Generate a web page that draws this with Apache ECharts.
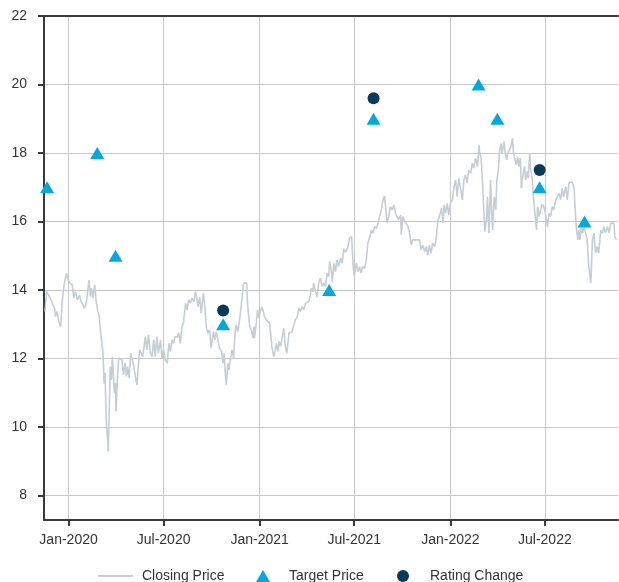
<!DOCTYPE html>
<html>
<head>
<meta charset="utf-8">
<script src="https://cdn.jsdelivr.net/npm/echarts@6/dist/echarts.min.js"></script>
<style>
  html, body { margin: 0; padding: 0; background: #fff; }
  #chart { width: 619px; height: 582px; }
</style>
</head>
<body>
<div id="chart"></div>
<script>
// closing price (roughly every 3 days)
const closeDates = [
  "2019-11-17","2019-11-20","2019-11-23","2019-11-27","2019-12-01","2019-12-05","2019-12-07","2019-12-10","2019-12-14","2019-12-17",
  "2019-12-20","2019-12-24","2019-12-28","2019-12-31","2020-01-04","2020-01-08","2020-01-11","2020-01-14","2020-01-18","2020-01-22",
  "2020-01-24","2020-01-27","2020-01-31","2020-02-03","2020-02-06","2020-02-09","2020-02-12","2020-02-14","2020-02-17","2020-02-20",
  "2020-02-23","2020-02-26","2020-02-29","2020-03-02","2020-03-05","2020-03-07","2020-03-09","2020-03-11","2020-03-13","2020-03-15",
  "2020-03-17","2020-03-19","2020-03-21","2020-03-23","2020-03-25","2020-03-27","2020-03-29","2020-03-31","2020-04-01","2020-04-03",
  "2020-04-06","2020-04-09","2020-04-12","2020-04-15","2020-04-18","2020-04-21","2020-04-23","2020-04-26","2020-04-29","2020-05-02",
  "2020-05-05","2020-05-08","2020-05-11","2020-05-14","2020-05-16","2020-05-19","2020-05-22","2020-05-25","2020-05-27","2020-05-30",
  "2020-06-02","2020-06-06","2020-06-09","2020-06-12","2020-06-15","2020-06-18","2020-06-21","2020-06-25","2020-06-28","2020-07-01",
  "2020-07-04","2020-07-08","2020-07-11","2020-07-14","2020-07-17","2020-07-20","2020-07-23","2020-07-27","2020-07-30","2020-08-02",
  "2020-08-05","2020-08-08","2020-08-12","2020-08-15","2020-08-18","2020-08-21","2020-08-24","2020-08-28","2020-08-31","2020-09-03",
  "2020-09-05","2020-09-08","2020-09-11","2020-09-15","2020-09-18","2020-09-21","2020-09-24","2020-09-27","2020-09-30","2020-10-04",
  "2020-10-07","2020-10-10","2020-10-13","2020-10-16","2020-10-20","2020-10-23","2020-10-25","2020-10-27","2020-10-29","2020-11-01",
  "2020-11-03","2020-11-06","2020-11-09","2020-11-12","2020-11-15","2020-11-17","2020-11-20","2020-11-23","2020-11-25","2020-11-28",
  "2020-12-01","2020-12-03","2020-12-07","2020-12-09","2020-12-13","2020-12-16","2020-12-19","2020-12-21","2020-12-22","2020-12-26",
  "2020-12-28","2020-12-31","2021-01-02","2021-01-05","2021-01-08","2021-01-10","2021-01-14","2021-01-17","2021-01-20","2021-01-23",
  "2021-01-25","2021-01-28","2021-01-31","2021-02-02","2021-02-05","2021-02-07","2021-02-10","2021-02-13","2021-02-16","2021-02-19",
  "2021-02-22","2021-02-26","2021-03-01","2021-03-04","2021-03-07","2021-03-10","2021-03-14","2021-03-17","2021-03-20","2021-03-23",
  "2021-03-26","2021-03-30","2021-04-02","2021-04-05","2021-04-08","2021-04-10","2021-04-13","2021-04-14","2021-04-18","2021-04-21",
  "2021-04-24","2021-04-27","2021-05-01","2021-05-04","2021-05-07","2021-05-10","2021-05-13","2021-05-15","2021-05-18","2021-05-20",
  "2021-05-23","2021-05-26","2021-05-29","2021-06-01","2021-06-05","2021-06-08","2021-06-11","2021-06-14","2021-06-17","2021-06-20",
  "2021-06-22","2021-06-26","2021-06-29","2021-07-01","2021-07-05","2021-07-08","2021-07-11","2021-07-14","2021-07-17","2021-07-21",
  "2021-07-24","2021-07-27","2021-07-31","2021-08-03","2021-08-06","2021-08-09","2021-08-13","2021-08-16","2021-08-19","2021-08-22",
  "2021-08-25","2021-08-28","2021-08-31","2021-09-02","2021-09-05","2021-09-08","2021-09-12","2021-09-15","2021-09-18","2021-09-21",
  "2021-09-24","2021-09-28","2021-09-29","2021-10-02","2021-10-05","2021-10-08","2021-10-12","2021-10-15","2021-10-18","2021-10-21",
  "2021-10-24","2021-10-28","2021-10-31","2021-11-03","2021-11-06","2021-11-09","2021-11-13","2021-11-16","2021-11-19","2021-11-22",
  "2021-11-25","2021-11-28","2021-12-02","2021-12-05","2021-12-08","2021-12-11","2021-12-15","2021-12-18","2021-12-20","2021-12-23",
  "2021-12-26","2021-12-29","2022-01-01","2022-01-05","2022-01-08","2022-01-11","2022-01-14","2022-01-17","2022-01-21","2022-01-24",
  "2022-01-27","2022-01-30","2022-02-02","2022-02-05","2022-02-09","2022-02-12","2022-02-15","2022-02-18","2022-02-22","2022-02-25",
  "2022-02-26","2022-03-01","2022-03-04","2022-03-06","2022-03-08","2022-03-11","2022-03-13","2022-03-16","2022-03-19","2022-03-21",
  "2022-03-23","2022-03-26","2022-03-29","2022-03-31","2022-04-03","2022-04-05","2022-04-08","2022-04-10","2022-04-14","2022-04-16",
  "2022-04-19","2022-04-21","2022-04-24","2022-04-26","2022-04-30","2022-05-02","2022-05-05","2022-05-07","2022-05-10","2022-05-12",
  "2022-05-15","2022-05-17","2022-05-20","2022-05-23","2022-05-25","2022-05-28","2022-05-30","2022-06-02","2022-06-04","2022-06-07",
  "2022-06-09","2022-06-12","2022-06-15","2022-06-17","2022-06-20","2022-06-23","2022-06-26","2022-06-29","2022-07-02","2022-07-06",
  "2022-07-09","2022-07-12","2022-07-15","2022-07-18","2022-07-22","2022-07-25","2022-07-28","2022-07-31","2022-08-03","2022-08-06",
  "2022-08-10","2022-08-13","2022-08-16","2022-08-19","2022-08-22","2022-08-26","2022-08-27","2022-08-30","2022-09-02","2022-09-04",
  "2022-09-06","2022-09-09","2022-09-11","2022-09-14","2022-09-17","2022-09-20","2022-09-23","2022-09-27","2022-09-30","2022-10-03",
  "2022-10-06","2022-10-09","2022-10-12","2022-10-16","2022-10-19","2022-10-22","2022-10-25","2022-10-29","2022-11-01","2022-11-04",
  "2022-11-07","2022-11-10","2022-11-12","2022-11-15"
];
const closeValues = [
  13.37,13.95,13.95,13.76,13.61,13.47,13.22,13.37,13.03,12.93,
  13.71,14.20,14.49,14.29,14.20,14.15,13.76,13.95,13.71,13.85,
  13.71,13.66,13.47,13.56,13.85,14.29,13.80,14.05,13.76,14.15,
  13.66,13.37,13.22,12.83,12.78,12.15,11.27,11.57,10.20,9.82,
  9.28,10.59,11.76,11.37,12.05,11.47,10.98,11.27,10.45,11.27,
  12.01,11.96,11.96,11.52,11.86,11.47,11.76,11.42,12.15,12.15,
  11.76,11.47,11.23,11.86,12.25,12.30,12.05,12.39,12.64,12.25,
  12.69,12.15,12.05,12.54,12.05,12.64,12.15,12.54,12.00,12.25,
  11.96,11.86,12.44,12.20,12.54,12.44,12.64,12.62,12.74,12.44,
  12.93,13.03,13.61,13.42,13.71,13.61,13.76,13.66,13.95,14.00,
  13.51,13.80,13.32,13.90,13.51,12.88,12.74,12.83,12.30,12.78,
  12.54,12.78,12.74,12.30,12.20,11.86,12.15,11.57,11.23,11.86,
  11.66,12.00,12.25,12.00,12.78,12.98,12.78,13.07,13.30,13.75,
  14.20,14.24,14.20,13.51,12.93,12.83,12.59,12.93,12.59,13.12,
  13.42,13.17,13.37,13.51,13.37,13.22,13.12,13.17,13.03,12.54,
  12.25,12.05,12.00,12.44,12.20,12.49,12.35,12.30,12.88,12.35,
  12.15,12.74,12.69,12.78,12.80,13.12,13.22,13.47,13.37,13.51,
  13.42,13.61,13.56,13.66,13.85,14.05,13.95,14.20,13.95,13.80,
  14.20,14.34,14.10,14.20,14.10,14.49,14.39,14.83,14.58,14.24,
  14.78,14.53,14.88,14.68,14.93,14.78,15.20,15.10,15.17,15.35,
  15.51,15.56,14.68,14.39,14.78,14.53,14.68,14.49,14.68,14.63,
  14.88,15.36,15.56,15.75,15.65,15.85,15.80,15.99,15.95,16.34,
  16.63,16.74,16.69,15.95,16.14,16.43,16.34,16.48,16.24,16.29,
  16.04,16.19,15.61,16.14,16.04,16.09,15.85,15.66,15.31,15.46,
  15.51,15.46,15.51,15.46,15.17,15.31,15.12,15.27,15.02,15.31,
  15.07,15.36,15.27,15.51,16.04,16.14,16.39,15.95,16.48,16.24,
  16.53,16.19,16.53,16.63,17.02,17.21,16.72,17.26,16.92,16.63,
  17.21,17.36,17.12,17.50,17.41,17.70,17.56,17.85,17.61,18.23,
  18.03,17.85,17.02,16.34,15.70,16.04,16.72,15.66,17.21,16.34,
  15.75,16.72,16.34,17.21,17.50,18.04,18.28,17.99,18.33,17.99,
  17.80,17.99,17.95,18.14,18.43,17.99,17.80,17.65,17.89,17.60,
  17.85,16.97,17.36,17.60,17.21,17.46,17.26,17.99,17.50,17.21,
  16.72,16.24,15.75,16.43,16.14,16.35,16.50,16.43,16.24,15.85,
  16.24,16.14,16.43,16.34,16.63,16.58,16.82,16.63,16.97,16.72,
  17.02,16.63,17.12,17.07,17.16,16.97,16.63,15.85,15.46,15.75,
  15.46,15.85,15.66,15.85,15.66,15.46,14.68,14.20,15.46,15.66,
  15.07,15.27,15.07,15.75,15.66,15.85,15.66,15.85,15.66,15.95,
  15.95,15.95,15.54,15.46
];

const targetDates = ["2019-11-21","2020-02-25","2020-03-31","2020-10-23","2021-05-14","2021-08-07","2022-02-24","2022-04-01","2022-06-21","2022-09-15"];
const targetValues = [17, 18, 15, 13, 14, 19, 20, 19, 17, 16];

const ratingDates = ["2020-10-23","2021-08-07","2022-06-21"];
const ratingValues = [13.4, 19.6, 17.5];

const xTickDates = ["2020-01-01","2020-07-01","2021-01-01","2021-07-01","2022-01-01","2022-07-01"];
const yTicks = [8, 10, 12, 14, 16, 18, 20, 22];
const monthNames = ["Jan","Feb","Mar","Apr","May","Jun","Jul","Aug","Sep","Oct","Nov","Dec"];

const xMin = "2019-11-15";
const xMax = "2022-11-18";

function ts (s) {
  const [y, m, d] = s.split("-").map(Number);
  return new Date(y, m - 1, d).getTime();
}
function pairs (dates, values) {
  return dates.map((d, i) => [ts(d), values[i]]);
}

const axisColor = "#3a3a3a";
const gridColor = "#c8c8c8";
const textColor = "#333";
const lineColor = "#c3ced7";
const font = "Liberation Sans, Arial, sans-serif";

// one legend per entry so every icon gets its own size and spacing
function legendEntry (name, icon, left, w, h, gap) {
  return {
    data: [{ name, icon }],
    left,
    top: 569,
    padding: 0,
    itemWidth: w,
    itemHeight: h,
    textStyle: { color: textColor, fontSize: 14, fontFamily: font, padding: [0, 0, 0, gap] },
  };
}

const chart = echarts.init(document.getElementById("chart"));
const option = {
  backgroundColor: "#FFFFFF",
  animation: false,
  grid: { left: 44, right: 1, top: 16, bottom: 62 },
  legend: [
    legendEntry("Closing Price", "path://M0,0 H35 V2 H0 Z", 98, 35, 2, 4),
    legendEntry("Target Price", "path://M7,0 L14,12 L0,12 Z", 256, 14, 12, 14),
    legendEntry("Rating Change", "circle", 397, 12, 12, 16),
  ],
  xAxis: [
    {
      // dates as timestamps on a value axis so ticks can sit on Jan / Jul
      type: "value",
      min: ts(xMin),
      max: ts(xMax),
      axisLine: { show: true, lineStyle: { color: axisColor, width: 2 } },
      axisTick: {
        show: true,
        length: 6,
        lineStyle: { color: axisColor, width: 2 },
        customValues: xTickDates.map(ts),
      },
      axisLabel: {
        color: textColor,
        fontSize: 14,
        fontFamily: font,
        margin: 13,
        customValues: xTickDates.map(ts),
        formatter (val) {
          const d = new Date(val);
          return monthNames[d.getMonth()] + "-" + d.getFullYear();
        },
      },
      splitLine: { show: true, lineStyle: { color: gridColor, width: 1 } },
    },
    {
      // dark top border only
      type: "value",
      position: "top",
      min: ts(xMin),
      max: ts(xMax),
      axisLine: { show: true, lineStyle: { color: axisColor, width: 2 } },
      axisTick: { show: false },
      axisLabel: { show: false },
      splitLine: { show: false },
    },
  ],
  yAxis: {
    type: "value",
    min: 7.28,
    max: 22,
    axisLine: { show: true, lineStyle: { color: axisColor, width: 2 } },
    axisTick: {
      show: true,
      length: 6,
      lineStyle: { color: axisColor, width: 2 },
      customValues: yTicks,
    },
    axisLabel: {
      color: textColor,
      fontSize: 14,
      fontFamily: font,
      margin: 17,
      customValues: yTicks,
    },
    splitLine: { show: true, lineStyle: { color: gridColor, width: 1 } },
  },
  series: [
    {
      name: "Closing Price",
      type: "line",
      xAxisIndex: 0,
      data: pairs(closeDates, closeValues),
      showSymbol: false,
      symbol: "none",
      lineStyle: { color: lineColor, width: 1.6 },
      itemStyle: { color: lineColor },
      z: 2,
    },
    {
      name: "Target Price",
      type: "scatter",
      xAxisIndex: 0,
      data: pairs(targetDates, targetValues),
      symbol: "triangle",
      symbolSize: [14, 12],
      itemStyle: { color: "#00a9e0", opacity: 1 },
      z: 3,
    },
    {
      name: "Rating Change",
      type: "scatter",
      xAxisIndex: 0,
      data: pairs(ratingDates, ratingValues),
      symbol: "circle",
      symbolSize: 12,
      itemStyle: { color: "#073a5c", opacity: 1 },
      z: 4,
    },
  ],
};
chart.setOption(option);
</script>
</body>
</html>
